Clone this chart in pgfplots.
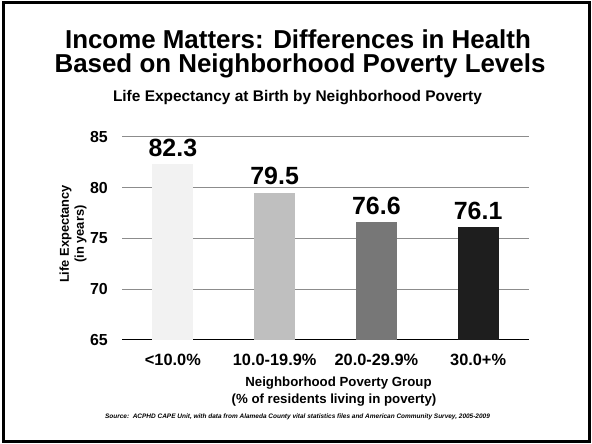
\documentclass[border=0pt]{standalone}
\usepackage{fontspec}
\setmainfont{Liberation Sans}
\usepackage{pgfplots}
\pgfplotsset{compat=1.18}
\definecolor{bA}{HTML}{F2F2F2}
\definecolor{bB}{HTML}{BFBFBF}
\definecolor{bC}{HTML}{777777}
\definecolor{bD}{HTML}{1E1E1E}
\definecolor{gridc}{HTML}{8C8C8C}
\begin{document}
\begin{tikzpicture}[x=1bp,y=1bp]
\useasboundingbox (0,0) rectangle (592,444);
\draw[line width=3bp] (3.5,2) rectangle (589,441.5);
\node[font=\bfseries\fontsize{26}{26}\selectfont, anchor=base, inner sep=0pt] at (298,395.5) {Income Matters: Differences in Health};
\node[font=\bfseries\fontsize{26}{26}\selectfont, anchor=base, inner sep=0pt] at (300,371) {Based on Neighborhood Poverty Levels};
\node[font=\bfseries\fontsize{15.5}{15.5}\selectfont, anchor=base, inner sep=0pt] at (297.5,342.3) {Life Expectancy at Birth by Neighborhood Poverty};
\begin{axis}[
  at={(122bp,104bp)}, anchor=south west,
  scale only axis, width=407bp, height=203bp,
  xmin=-0.5, xmax=3.5, ymin=65, ymax=85,
  enlargelimits=false,
  /pgf/number format/assume math mode=true,
  ytick={65,70,75,80,85},
  xtick={0,1,2,3},
  xticklabels={{<10.0\%},{10.0-19.9\%},{20.0-29.9\%},{30.0+\%}},
  axis x line*=bottom, axis y line*=left,
  x axis line style={-, black, line width=1bp},
  y axis line style={draw=none},
  major tick length=0pt,
  ymajorgrids,
  grid style={gridc, line width=1bp},
  yticklabel style={font=\bfseries\fontsize{16}{16}\selectfont, anchor=east, inner sep=0pt, xshift=-14bp},
  xticklabel style={font=\bfseries\fontsize{16.4}{16.4}\selectfont, anchor=base, inner sep=0pt, yshift=-26bp},
  nodes near coords,
  every node near coord/.append style={font=\bfseries\fontsize{25}{25}\selectfont, anchor=base, inner sep=0pt, yshift=8bp, text=black},
]
\addplot[ybar, bar width=41bp, bar shift=0pt, fill=bA, draw=none] coordinates {(0,82.3)};
\addplot[ybar, bar width=41bp, bar shift=0pt, fill=bB, draw=none] coordinates {(1,79.5)};
\addplot[ybar, bar width=41bp, bar shift=0pt, fill=bC, draw=none] coordinates {(2,76.6)};
\addplot[ybar, bar width=41bp, bar shift=0pt, fill=bD, draw=none] coordinates {(3,76.1)};
\end{axis}
\node[rotate=90, align=center, font=\bfseries\fontsize{12.9}{15}\selectfont] at (73,210) {Life Expectancy\\(in years)};
\node[font=\bfseries\fontsize{13.3}{13.3}\selectfont, anchor=base, inner sep=0pt] at (338.5,57) {Neighborhood Poverty Group};
\node[font=\bfseries\fontsize{13.3}{13.3}\selectfont, anchor=base, inner sep=0pt] at (334,40) {(\% of residents living in poverty)};
\node[font=\bfseries\itshape\fontsize{6.5}{6.5}\selectfont, anchor=base, inner sep=0pt] at (297.5,25) {Source:\ \ ACPHD CAPE Unit, with data from Alameda County vital statistics files and American Community Survey, 2005-2009};
\end{tikzpicture}
\end{document}
